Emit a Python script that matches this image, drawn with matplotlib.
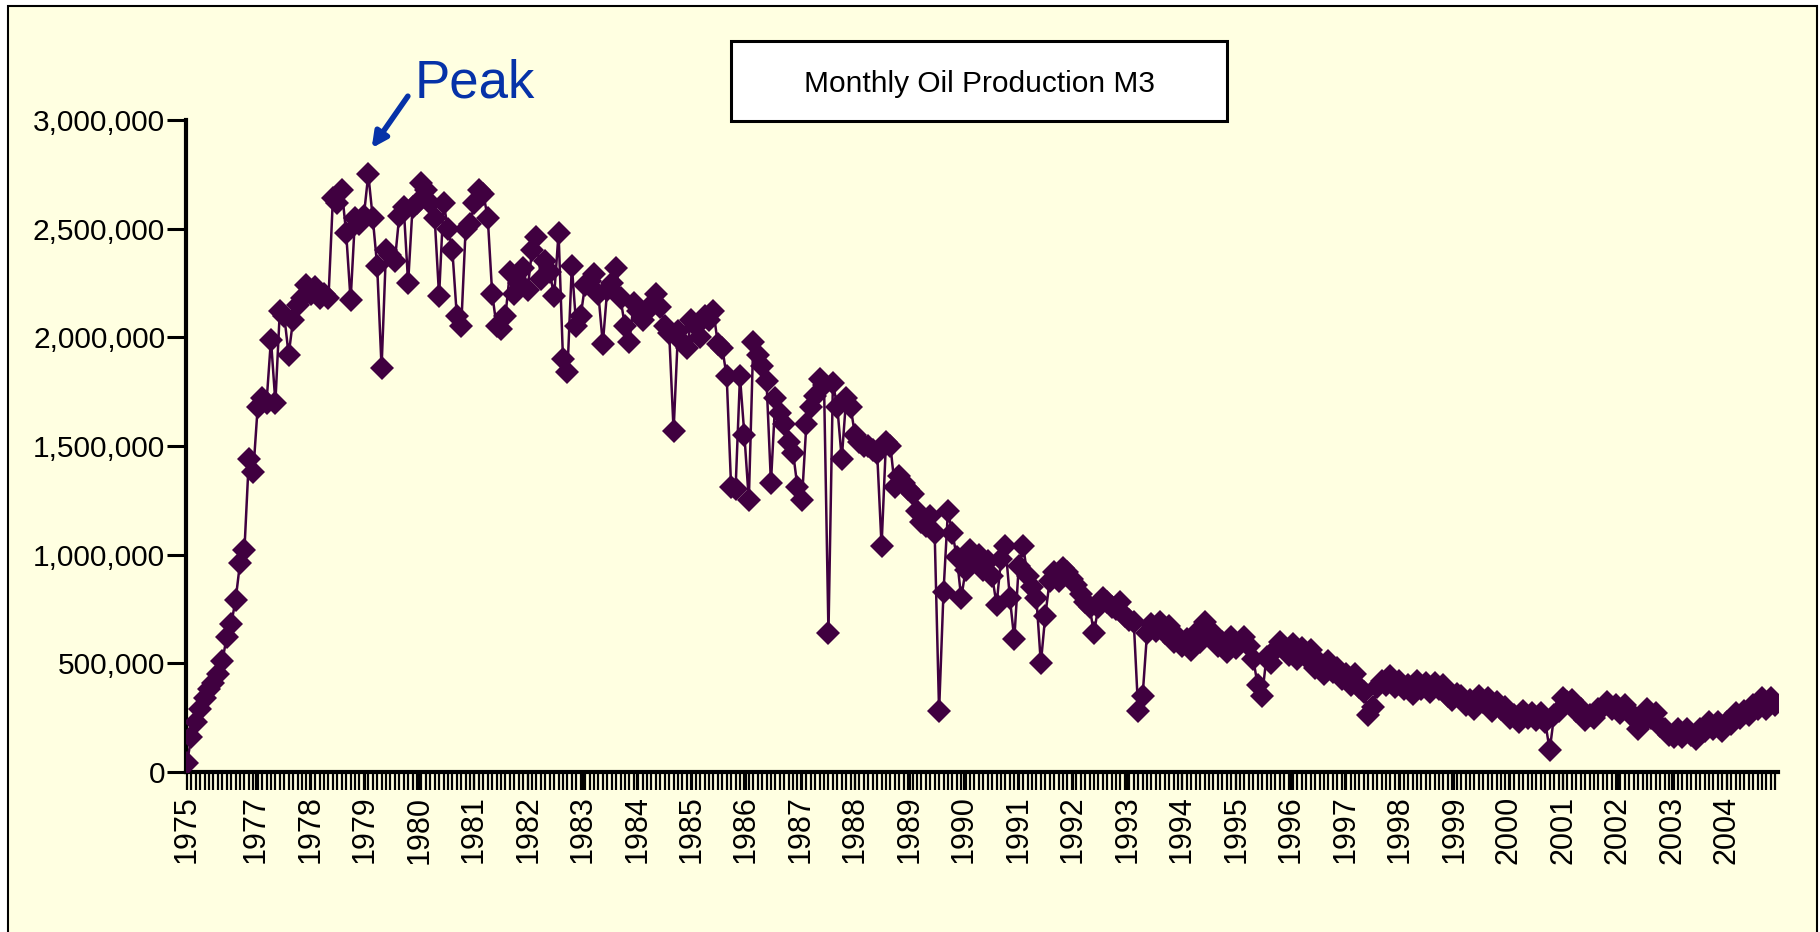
import numpy as np
import matplotlib
matplotlib.use('Agg')
import matplotlib.pyplot as plt
from matplotlib.patches import Rectangle
from matplotlib.ticker import FuncFormatter

# monthly oil production, m3 (thousands)
prod_a = [40, 160, 230, 290, 340, 380, 410, 450, 510, 620, 680, 790,
          960, 1020, 1440, 1380, 1680, 1720, 1700, 1990, 1700, 2120, 2100, 1920,
          2080, 2150, 2180, 2240, 2200, 2230, 2180, 2200, 2180, 2640, 2620, 2680,
          2480, 2170, 2550, 2520, 2560, 2750, 2550, 2330, 1860, 2400, 2380, 2350,
          2560, 2600, 2250, 2600, 2620, 2710, 2680, 2620, 2550, 2190, 2620, 2500,
          2400, 2100, 2050, 2500, 2520, 2620, 2680, 2660, 2550, 2200, 2050, 2040,
          2100, 2300, 2200, 2250, 2320, 2220, 2400, 2460, 2270, 2350, 2300, 2190,
          2480, 1900, 1840, 2330, 2050, 2100, 2240, 2260, 2290, 2200, 1970, 2220,
          2250, 2320, 2180, 2050, 1980, 2160, 2120, 2080, 2120, 2150, 2200, 2140,
          2050, 2020, 1570, 2030, 1980, 1950, 2080, 2050, 2000, 2100, 2080, 2120]
prod_b = [1970, 1950, 1820, 1310, 1300, 1820, 1550, 1250, 1980, 1920, 1870, 1800,
          1330, 1720, 1650, 1600, 1520, 1470, 1310, 1250, 1600, 1680, 1730, 1810,
          1780, 640, 1790, 1680, 1440, 1720, 1680, 1550, 1520, 1500, 1500, 1480,
          1470, 1040, 1520, 1500, 1310, 1360, 1330, 1300, 1280, 1200, 1150, 1130,
          1180, 1100, 280, 830, 1200, 1100, 990, 800, 930, 1020, 980, 1000,
          930, 970, 900, 770, 980, 1040, 800, 610, 950, 1040, 900, 850,
          800, 500, 720, 880, 920, 880, 940, 920, 890, 860, 820, 780,
          760, 640, 760, 800, 780, 760, 750, 780, 720, 700, 690, 280,
          350, 640, 680, 650, 690, 640, 670, 600, 620, 580, 610, 560,
          640, 600, 690, 650, 640, 580, 600, 550, 620, 570, 600, 620]
prod_c = [580, 520, 400, 350, 530, 500, 560, 600, 570, 540, 590, 520,
          570, 530, 560, 480, 500, 450, 510, 460, 480, 430, 450, 400,
          450, 390, 370, 260, 300, 390, 420, 400, 440, 390, 420, 380,
          400, 360, 420, 380, 410, 370, 410, 380, 400, 350, 330, 360,
          350, 310, 330, 290, 350, 320, 340, 280, 320, 290, 300, 250,
          260, 230, 280, 250, 270, 240, 270, 230, 100, 260, 280, 340,
          320, 330, 280, 290, 240, 260, 250, 290, 300, 320, 290, 310,
          270, 310, 280, 250, 200, 230, 290, 250, 270, 210, 200, 170,
          160, 200, 160, 200, 170, 150, 200, 190, 230, 200, 230, 190,
          230, 220, 270, 250, 280, 260, 310, 290, 340, 290, 340, 310]
prod = np.array(prod_a + prod_b + prod_c) * 1000.0
months = np.arange(len(prod))

year_labels = ['1975'] + [str(y) for y in range(1977, 2005)]
year_pos = np.concatenate([[0.0], 15.6 + 12.31 * np.arange(len(year_labels) - 1)])

yellow = '#FFFFE1'
purple = '#400040'
blue = '#0632A8'
plain = ['Liberation Sans', 'DejaVu Sans']

fig = plt.figure(figsize=(18.2, 9.32), dpi=100, facecolor='white')
W, H = 1820.0, 932.0
fig.add_artist(Rectangle((8 / W, -0.02), (1817 - 8) / W, 1.02 - 6 / H,
                         transform=fig.transFigure, facecolor=yellow,
                         edgecolor='black', lw=1.5, zorder=-10))

ax = fig.add_axes([186 / W, 1 - 772 / H, (1778 - 186) / W, (772 - 120) / H])
ax.set_facecolor('none')
ax.plot(months, prod, color=purple, lw=1.8, marker='D', ms=12.5,
        markeredgewidth=0, zorder=3)

ax.set_ylim(0, 3e6)
ax.set_xlim(-0.2, 359.6)
ax.set_yticks(np.arange(0, 3.0e6 + 1, 5e5))
ax.yaxis.set_major_formatter(FuncFormatter(lambda v, p: '{:,.0f}'.format(v)))
ax.set_xticks(year_pos)
ax.set_xticklabels(year_labels, rotation=90, fontfamily=plain, fontsize=22)
ax.set_xticks(months, minor=True)
for lab in ax.get_yticklabels():
    lab.set_fontfamily(plain)
    lab.set_fontsize(21.5)

for s in ['top', 'right']:
    ax.spines[s].set_visible(False)
for s in ['left', 'bottom']:
    ax.spines[s].set_linewidth(3)
ax.tick_params(axis='y', direction='out', length=14, width=2.2, pad=1)
ax.tick_params(axis='x', which='both', direction='out', length=13, width=1.6, pad=4)

# title box
fig.add_artist(Rectangle((731 / W, 1 - 121 / H), (1227 - 731) / W, 80 / H,
                         transform=fig.transFigure, facecolor='white',
                         edgecolor='black', lw=2.2))
fig.text(979 / W, 1 - 84 / H, 'Monthly Oil Production M3', ha='center',
         va='center', fontsize=21.5, family=plain)

# peak annotation
ax.annotate('', xy=(41.4, 2.86e6), xytext=(50.3, 3.12e6),
            arrowprops=dict(arrowstyle='-|>,head_length=0.9,head_width=0.45',
                            color=blue, lw=4),
            annotation_clip=False)
ax.text(51.5, 3.105e6, 'Peak', color=blue, fontsize=38, family=plain,
        ha='left', va='baseline', clip_on=False)

fig.savefig('out.png', dpi=100, facecolor=fig.get_facecolor())
